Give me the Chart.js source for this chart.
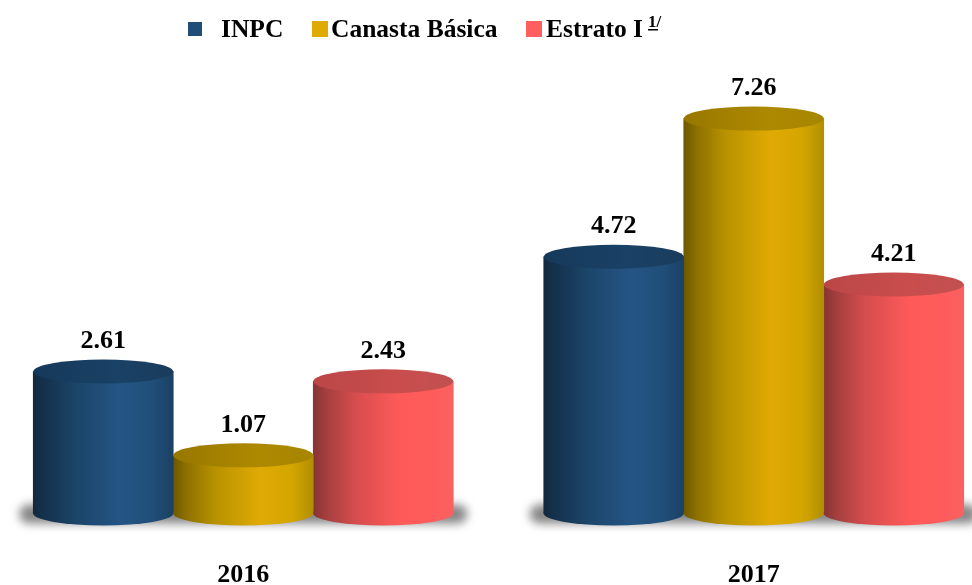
<!DOCTYPE html>
<html><head><meta charset="utf-8">
<script src="https://cdn.jsdelivr.net/npm/chart.js@4"></script>
<style>html,body{margin:0;padding:0;background:#fff;overflow:hidden;width:972px;height:585px;position:relative}canvas{display:block;position:absolute;left:-13px;top:0}</style>
</head><body><canvas id="c" width="1022" height="585"></canvas>
<script>
const categories = ['2016', '2017'];
const inpc = [2.61, 4.72];
const canasta = [1.07, 7.26];
const estrato = [2.43, 4.21];
const seriesNames = ['INPC', 'Canasta Básica', 'Estrato I'];
const superscript = '1/';
const bodyStops = [
  [[0,'#12293f'],[0.1,'#153350'],[0.3,'#1b4468'],[0.62,'#255585'],[0.85,'#1f4e79'],[1,'#1b4163']],
  [[0,'#6e5800'],[0.1,'#8f7200'],[0.3,'#b89200'],[0.62,'#e0aa04'],[0.85,'#d4a500'],[1,'#b08f00']],
  [[0,'#873434'],[0.1,'#a63f3f'],[0.3,'#d64d4d'],[0.62,'#ff5a5a'],[0.85,'#fe5c5c'],[1,'#fb6060']]
];
const topFills = [
  ['#15395a','#1a4166','#1a3c5c'],
  ['#987700','#ad8900','#a68600'],
  ['#bb4646','#c94d4d','#c25050']
];
const swatchColors = ['#1f4e79','#e0aa04','#ff5f5f'];
const legendSwatchX = [188, 312, 526];
const legendTextX = [221, 331, 546];
const FONT = '"Liberation Serif", "Times New Roman", serif';
const OFFSET = 13;
const BAR = 140;

function barGrad(c, x, w, di) {
  const g = c.createLinearGradient(x - w/2, 0, x + w/2, 0);
  bodyStops[di].forEach(s => g.addColorStop(s[0], s[1]));
  return g;
}
function bodyFill(ctx) {
  const sx = ctx.chart.scales.x;
  const fallback = bodyStops[ctx.datasetIndex][3][1];
  if (!sx || ctx.dataIndex === undefined) return fallback;
  const x = sx.getPixelForValue(ctx.dataIndex) + (ctx.datasetIndex - 1) * BAR;
  if (!Number.isFinite(x)) return fallback;
  return barGrad(ctx.chart.ctx, x, BAR, ctx.datasetIndex);
}
function ellipseGrad(c, x, w, cols) {
  const g = c.createLinearGradient(x - w/2, 0, x + w/2, 0);
  g.addColorStop(0, cols[0]); g.addColorStop(0.6, cols[1]); g.addColorStop(1, cols[2]);
  return g;
}
const RY = 12;
const cylinder = {
  id: 'cylinder',
  beforeDatasetsDraw(chart) {
    const c = chart.ctx;
    const metas = [0,1,2].map(i => chart.getDatasetMeta(i));
    categories.forEach((_, i) => {
      const a = metas[0].data[i], b = metas[2].data[i];
      const left = a.x - a.width/2 - 14, right = b.x + b.width/2 + 14, base = a.base;
      c.save();
      c.filter = 'blur(5px)';
      c.fillStyle = '#858585';
      c.beginPath();
      c.roundRect(left, base - 9, right - left, 19, 9.5);
      c.fill();
      c.restore();
    });
  },
  afterDatasetsDraw(chart) {
    const c = chart.ctx;
    chart.data.datasets.forEach((ds, di) => {
      chart.getDatasetMeta(di).data.forEach(el => {
        const L = el.x - el.width/2, hw = el.width/2;
        c.save();
        c.fillStyle = barGrad(c, el.x, el.width, di);
        c.beginPath();
        c.moveTo(L, el.base - 2);
        c.lineTo(L + el.width, el.base - 2);
        c.lineTo(L + el.width, el.base);
        c.ellipse(el.x, el.base, hw, RY, 0, 0, Math.PI);
        c.closePath();
        c.fill();
        c.beginPath();
        c.ellipse(el.x, el.y, hw, RY, 0, 0, Math.PI*2);
        c.fillStyle = ellipseGrad(c, el.x, el.width, topFills[di]); c.fill();
        c.restore();
      });
    });
    chart.data.datasets.forEach((ds, di) => {
      chart.getDatasetMeta(di).data.forEach((el, i) => {
        c.save();
        c.font = 'bold 26px ' + FONT;
        c.fillStyle = '#000'; c.textAlign = 'center'; c.textBaseline = 'middle';
        c.fillText(ds.data[i].toFixed(2), el.x, el.y - 30);
        c.restore();
      });
    });
  },
  afterDraw(chart) {
    const c = chart.ctx;
    c.save();
    const y = 29, baseline = 37;
    seriesNames.forEach((n, i) => {
      const x = legendSwatchX[i] + OFFSET, s = i === 0 ? 14 : 16;
      c.fillStyle = swatchColors[i];
      c.fillRect(x, y - s/2, s, s);
      c.fillStyle = '#000';
      c.font = 'bold 25.5px ' + FONT;
      c.textAlign = 'left'; c.textBaseline = 'alphabetic';
      c.fillText(n, legendTextX[i] + OFFSET, baseline);
      if (i === 2) {
        const w = c.measureText(n).width;
        const sx = legendTextX[i] + OFFSET + w + 5;
        c.font = 'bold 17px ' + FONT;
        c.fillText(superscript, sx, 27);
        c.fillRect(sx, 29, 10, 1.5);
      }
    });
    c.restore();
  }
};
new Chart(document.getElementById('c'), {
  type: 'bar',
  data: {
    labels: categories,
    datasets: [
      { label: seriesNames[0], data: inpc, backgroundColor: bodyFill },
      { label: seriesNames[1], data: canasta, backgroundColor: bodyFill },
      { label: seriesNames[2], data: estrato, backgroundColor: bodyFill }
    ]
  },
  plugins: [cylinder],
  options: {
    responsive: false,
    animation: false,
    layout: { padding: { left: 1, right: 0, top: 23.9, bottom: 0 } },
    datasets: { bar: { barThickness: BAR, clip: false } },
    plugins: { legend: { display: false }, tooltip: { enabled: false } },
    scales: {
      y: { display: false, min: 0, max: 9 },
      x: {
        grid: { display: false }, border: { display: false },
        afterFit(s) { s.height = 71.5; },
        ticks: { color: '#000', padding: 38, maxRotation: 0, font: { family: FONT, weight: 'bold', size: 26 } }
      }
    }
  }
});
</script></body></html>
